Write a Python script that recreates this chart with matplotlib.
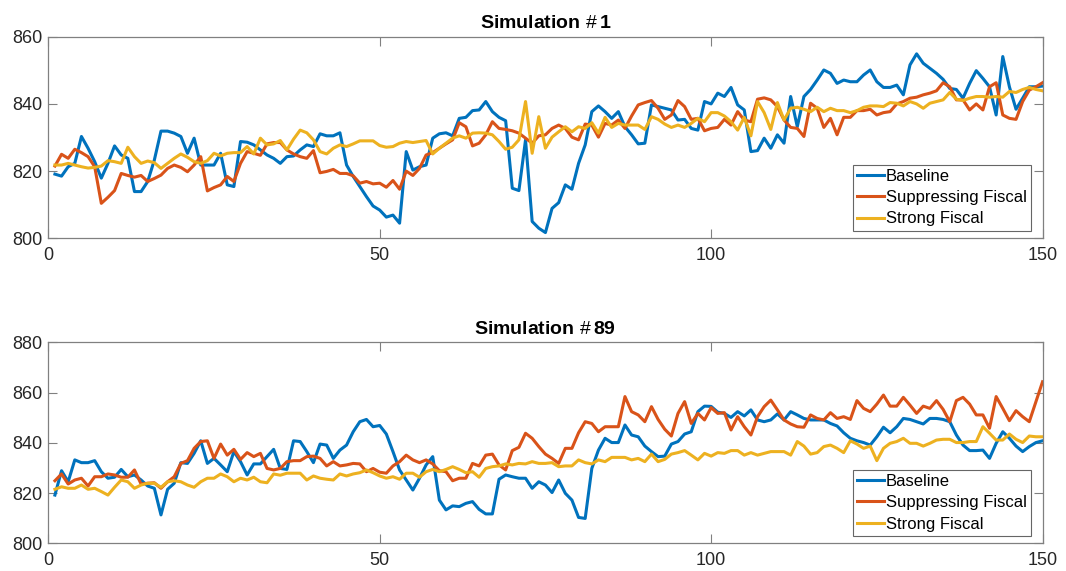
import numpy as np
import matplotlib
matplotlib.use("Agg")
import matplotlib.pyplot as plt

plt.rcParams['font.family'] = ['Liberation Sans', 'DejaVu Sans']
plt.rcParams['mathtext.fontset'] = 'custom'
plt.rcParams['mathtext.rm'] = 'Liberation Sans'

labels = ['Baseline', 'Suppressing Fiscal', 'Strong Fiscal']
colors = ['#0072BD', '#D95319', '#EDB120']
periods = np.arange(1, 151)

# Simulation #1
sim1_baseline = [
    819.1, 818.5, 821.3, 822.3, 830.3, 826.8, 822.8, 817.9, 822.3, 827.5,
    824.8, 823.8, 813.9, 813.9, 816.9, 823.3, 831.9, 831.9, 831.3, 830.3,
    825.3, 829.8, 821.8, 821.8, 821.8, 825.3, 815.9, 815.4, 828.8, 828.6,
    827.8, 826.3, 824.8, 823.8, 822.3, 824.3, 824.5, 826.3, 827.8, 827.3,
    831.1, 830.5, 830.5, 831.4, 821.8, 818.4, 815.4, 812.4, 809.6, 808.4,
    806.3, 806.9, 804.5, 825.8, 820.3, 821.3, 821.8, 829.8, 831.1, 831.4,
    830.5, 835.7, 836.0, 838.0, 838.2, 840.7, 837.7, 836.0, 835.0, 814.9,
    814.2, 829.3, 805.0, 803.0, 801.7, 808.9, 810.6, 815.9, 814.6, 822.3,
    827.8, 837.7, 839.4, 837.7, 835.7, 837.7, 833.2, 830.8, 828.1, 828.3,
    839.7, 839.2, 838.7, 838.2, 835.2, 835.4, 832.7, 832.2, 840.7, 840.0,
    843.2, 842.2, 844.9, 839.7, 838.2, 825.8, 826.1, 829.8, 826.8, 830.8,
    828.3, 842.2, 833.2, 842.2, 844.3, 847.1, 850.1, 849.1, 846.1, 847.1,
    846.6, 846.6, 848.6, 850.1, 846.6, 844.9, 844.9, 845.6, 842.7, 851.6,
    854.9, 852.1, 850.6, 849.1, 847.3, 844.6, 844.3, 841.7, 846.1, 849.9,
    847.6, 845.1, 836.7, 854.1, 845.1, 838.4, 841.7, 845.1, 845.1, 845.3,
]
sim1_suppressing = [
    821.5, 825.0, 823.8, 826.5, 825.5, 824.3, 821.3, 810.4, 812.2, 814.2,
    819.3, 818.7, 818.2, 818.7, 816.9, 817.8, 818.8, 820.8, 821.8, 821.1,
    819.8, 821.8, 824.3, 814.1, 815.1, 815.9, 818.4, 816.9, 822.3, 825.8,
    825.3, 824.7, 828.1, 828.5, 828.5, 826.3, 825.1, 824.3, 823.8, 826.1,
    819.5, 819.9, 820.5, 819.3, 819.3, 818.6, 816.4, 816.9, 816.2, 816.4,
    815.2, 817.2, 814.6, 820.0, 818.7, 820.8, 824.8, 825.5, 826.8, 828.1,
    829.3, 834.4, 833.2, 827.5, 828.3, 830.8, 834.7, 832.7, 832.4, 832.0,
    831.3, 829.8, 828.3, 830.5, 830.8, 832.7, 833.7, 832.7, 830.1, 829.3,
    834.0, 833.7, 830.1, 834.2, 833.7, 835.2, 832.7, 836.4, 839.7, 840.4,
    841.0, 838.7, 835.4, 836.7, 841.0, 839.2, 835.4, 835.7, 832.0, 832.7,
    833.0, 835.4, 833.7, 837.7, 835.2, 834.7, 841.4, 841.8, 841.2, 839.2,
    835.2, 833.0, 832.7, 830.3, 840.2, 838.7, 833.0, 835.7, 830.8, 836.0,
    836.0, 838.0, 838.0, 838.4, 836.7, 837.4, 837.7, 840.0, 840.7, 841.7,
    842.0, 842.7, 843.2, 843.9, 846.3, 845.1, 841.2, 841.2, 838.2, 840.0,
    838.2, 845.1, 846.3, 836.7, 835.7, 835.4, 840.7, 844.1, 845.1, 846.3,
]
sim1_strong = [
    821.8, 821.8, 822.3, 821.8, 821.3, 820.9, 821.1, 821.5, 823.1, 822.8,
    822.3, 827.1, 824.3, 822.3, 823.0, 822.5, 820.8, 822.3, 823.8, 825.1,
    824.1, 822.8, 822.3, 823.1, 825.3, 824.5, 825.3, 825.5, 825.5, 827.3,
    825.1, 829.8, 827.8, 828.1, 829.1, 826.3, 829.5, 832.2, 831.4, 829.3,
    825.8, 825.1, 826.8, 827.8, 827.3, 828.1, 829.0, 829.0, 829.0, 827.6,
    827.1, 827.3, 828.3, 828.8, 828.5, 828.8, 829.1, 825.1, 826.8, 828.3,
    829.8, 830.5, 829.8, 831.3, 831.4, 831.3, 830.8, 828.8, 826.5, 827.1,
    829.3, 840.7, 825.3, 836.2, 826.8, 830.1, 831.7, 833.2, 831.7, 833.2,
    832.7, 834.4, 831.3, 836.0, 833.0, 834.2, 833.7, 833.7, 833.7, 832.4,
    836.2, 835.4, 834.0, 833.0, 833.7, 833.0, 834.2, 835.7, 834.7, 837.4,
    837.4, 836.4, 834.7, 832.2, 836.0, 830.5, 840.7, 837.4, 832.4, 840.4,
    835.2, 838.7, 839.0, 838.4, 837.7, 839.0, 837.7, 838.7, 838.0, 838.0,
    837.4, 838.0, 839.0, 839.4, 839.4, 839.2, 840.4, 840.2, 839.4, 840.7,
    840.0, 838.7, 840.2, 840.7, 841.2, 843.4, 841.4, 841.0, 841.7, 842.2,
    842.2, 842.0, 842.2, 842.0, 843.7, 843.4, 844.3, 844.9, 844.3, 843.9,
]

# Simulation #89
sim89_baseline = [
    819.2, 828.9, 824.5, 833.2, 832.1, 832.1, 832.9, 828.5, 825.9, 826.3,
    829.4, 826.5, 827.2, 825.2, 822.8, 821.9, 811.3, 821.5, 823.9, 832.1,
    831.8, 835.8, 840.8, 831.8, 833.8, 831.2, 828.5, 836.5, 832.5, 827.2,
    831.6, 831.6, 834.5, 837.4, 829.8, 829.4, 840.8, 840.5, 836.5, 832.1,
    839.5, 839.1, 833.8, 837.1, 839.1, 844.4, 848.4, 849.3, 846.4, 846.9,
    843.5, 836.5, 829.2, 825.2, 821.2, 825.9, 831.2, 834.5, 817.2, 813.3,
    814.9, 814.6, 815.9, 816.6, 813.5, 811.7, 811.7, 825.5, 827.2, 826.5,
    825.9, 825.9, 821.9, 824.5, 823.2, 820.2, 825.2, 819.9, 817.2, 810.3,
    809.9, 829.8, 837.1, 841.8, 840.1, 840.1, 847.1, 843.1, 842.4, 838.7,
    836.5, 834.5, 834.7, 839.5, 840.5, 843.5, 844.4, 852.4, 854.6, 854.5,
    852.2, 851.7, 850.1, 852.4, 850.7, 853.1, 849.1, 848.4, 849.1, 851.5,
    849.1, 852.4, 851.1, 849.7, 849.1, 849.1, 849.1, 847.7, 846.7, 844.0,
    841.8, 840.8, 840.1, 839.1, 842.4, 846.2, 844.0, 846.4, 849.7, 849.3,
    848.4, 847.5, 849.7, 849.7, 849.3, 848.4, 843.1, 839.1, 836.9, 836.9,
    837.1, 833.8, 839.8, 844.4, 841.8, 838.7, 836.5, 838.5, 840.1, 840.8,
]
sim89_suppressing = [
    824.9, 827.6, 823.6, 825.2, 825.9, 822.8, 826.5, 826.5, 827.6, 827.2,
    826.3, 826.3, 829.2, 823.6, 823.9, 824.1, 821.9, 824.5, 826.5, 831.8,
    832.9, 837.8, 840.5, 840.8, 833.8, 839.5, 835.1, 837.4, 833.4, 836.1,
    834.5, 835.8, 829.8, 829.2, 829.8, 832.5, 832.9, 832.9, 834.5, 834.7,
    833.8, 830.8, 832.5, 830.8, 831.2, 831.8, 831.6, 828.5, 829.8, 828.3,
    827.9, 830.8, 832.5, 835.1, 833.2, 832.1, 833.2, 831.6, 828.9, 828.5,
    824.9, 825.9, 825.9, 831.8, 830.8, 835.1, 835.5, 831.2, 829.2, 836.9,
    838.2, 843.8, 841.8, 838.5, 835.5, 833.8, 831.8, 837.8, 837.8, 844.0,
    848.4, 847.7, 844.4, 846.4, 846.4, 846.4, 858.4, 852.4, 851.1, 848.4,
    854.4, 849.3, 845.4, 842.7, 851.7, 856.4, 847.7, 851.7, 849.1, 854.0,
    851.7, 852.0, 845.1, 850.4, 846.4, 843.1, 850.4, 854.4, 857.0, 853.1,
    849.1, 847.5, 846.4, 846.2, 851.1, 849.7, 849.1, 852.0, 849.7, 850.4,
    849.3, 856.8, 853.7, 852.4, 855.4, 859.0, 854.6, 854.6, 858.1, 855.0,
    851.7, 854.6, 853.7, 856.8, 853.3, 848.4, 856.8, 858.1, 855.4, 851.1,
    851.1, 845.8, 858.4, 853.7, 848.8, 852.8, 850.4, 848.4, 856.4, 864.3,
]
sim89_strong = [
    821.5, 822.5, 821.9, 821.9, 823.2, 821.5, 821.9, 820.6, 819.2, 822.3,
    825.2, 824.5, 821.9, 823.2, 823.9, 823.9, 822.3, 824.5, 824.9, 824.5,
    823.2, 822.3, 824.5, 825.9, 825.9, 827.6, 826.5, 824.5, 825.9, 825.2,
    826.3, 824.5, 824.1, 827.6, 827.1, 827.9, 827.9, 827.9, 825.2, 826.8,
    825.9, 825.5, 825.2, 827.6, 826.8, 827.6, 828.1, 829.2, 828.1, 826.8,
    825.9, 826.5, 825.5, 827.9, 827.9, 826.3, 828.5, 829.4, 828.5, 829.4,
    830.5, 829.4, 828.1, 828.5, 826.3, 829.8, 830.5, 830.8, 831.6, 831.2,
    831.8, 831.6, 832.5, 831.8, 831.8, 832.1, 830.5, 830.8, 830.8, 833.2,
    832.1, 831.6, 833.2, 832.5, 834.2, 834.2, 834.2, 833.2, 833.8, 832.5,
    835.5, 832.5, 833.4, 835.5, 836.1, 836.9, 835.1, 833.2, 835.8, 834.7,
    836.1, 835.8, 836.9, 836.9, 835.1, 836.1, 835.1, 835.8, 836.5, 836.5,
    836.5, 835.1, 840.5, 838.7, 835.5, 836.1, 838.5, 839.1, 837.8, 836.1,
    840.8, 839.5, 837.8, 838.7, 832.9, 837.8, 839.8, 840.5, 841.8, 839.8,
    839.8, 838.7, 839.8, 841.1, 841.4, 841.4, 840.1, 840.1, 840.5, 840.5,
    846.4, 843.8, 841.1, 841.1, 843.5, 841.4, 840.1, 842.7, 842.4, 842.4,
]

panels = [
    (r'Simulation $\#\,$1', [sim1_baseline, sim1_suppressing, sim1_strong], (800, 860), [800, 820, 840, 860]),
    (r'Simulation $\#\,$89', [sim89_baseline, sim89_suppressing, sim89_strong], (800, 880), [800, 820, 840, 860, 880]),
]

fig = plt.figure(figsize=(10.66, 5.71), dpi=100)
boxes = [[0.0453, 0.5827, 0.9327, 0.3530], [0.0453, 0.0485, 0.9327, 0.3520]]

for box, (title, series, ylim, yticks) in zip(boxes, panels):
    ax = fig.add_axes(box)
    for vals, lab, col in zip(series, labels, colors):
        ax.plot(periods, vals, color=col, lw=2.2, label=lab)
    ax.set_xlim(0, 150)
    ax.set_ylim(*ylim)
    ax.set_xticks([0, 50, 100, 150])
    ax.set_yticks(yticks)
    ax.tick_params(direction='in', length=6.5, width=0.8, colors='#808080',
                   labelcolor='#262626', labelsize=13, top=True, right=True)
    ax.tick_params(axis='x', pad=6.5)
    ax.tick_params(axis='y', pad=4.5)
    for sp in ax.spines.values():
        sp.set_color('#808080')
        sp.set_linewidth(0.9)
    ax.set_title(title, fontsize=14, fontweight='bold', pad=6)
    leg = ax.legend(loc='lower right', bbox_to_anchor=(0.988, 0.038), fontsize=12,
                    frameon=True, fancybox=False, handlelength=1.6, handletextpad=0.1,
                    borderpad=0.25, labelspacing=0.38, borderaxespad=0)
    leg.get_frame().set_edgecolor('#404040')
    leg.get_frame().set_linewidth(0.8)
    for ln in leg.get_lines():
        ln.set_linewidth(2.2)

fig.savefig('out.png', dpi=100)
